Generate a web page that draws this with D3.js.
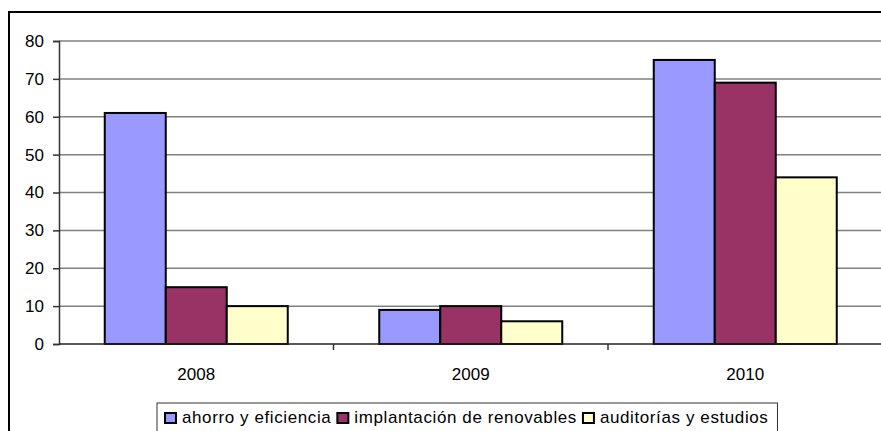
<!DOCTYPE html>
<html>
<head>
<meta charset="utf-8">
<script src="https://cdn.jsdelivr.net/npm/d3@7"></script>
<style>
  body { margin: 0; background: #fff; }
  text { font-family: "Liberation Sans", Arial, sans-serif; fill: #000; }
</style>
</head>
<body>
<script>
  var years = ['2008', '2009', '2010'];
  var seriesNames = ['ahorro y eficiencia', 'implantación de renovables', 'auditorías y estudios'];
  var ahorro = [61, 9, 75];
  var renovables = [15, 10, 69];
  var auditorias = [10, 6, 44];
  var yTicks = [0, 10, 20, 30, 40, 50, 60, 70, 80];
  var colors = ['#9999ff', '#993366', '#ffffcc'];

  var series = [ahorro, renovables, auditorias];
  var dataset = years.map(function(y, i) {
    return { year: y, values: series.map(function(s, k) { return { key: seriesNames[k], k: k, v: s[i] }; }) };
  });

  var W = 881, H = 431;
  var margin = {left: 59, top: 41};
  var plotW = 823.5, plotH = 303;

  var svg = d3.select('body').append('svg')
    .attr('width', W).attr('height', H);

  // outer chart frame (clipped at right/bottom like the original)
  svg.append('rect')
    .attr('x', 9).attr('y', 12)
    .attr('width', 900).attr('height', 440)
    .attr('fill', 'none').attr('stroke', '#000').attr('stroke-width', 2);

  var xScale = d3.scaleBand()
    .domain(years)
    .range([0, plotW])
    .paddingInner(0).paddingOuter(0);

  var x1 = d3.scaleBand()
    .domain(d3.range(3))
    .range([0, xScale.bandwidth()])
    .paddingOuter(0.75);

  var yScale = d3.scaleLinear()
    .domain([0, 80])
    .range([plotH, 0]);

  var g = svg.append('g').attr('transform', 'translate(' + margin.left + ',' + margin.top + ')');

  // grid lines
  g.append('g').selectAll('line')
    .data(yTicks.filter(function(d) { return d > 0; }))
    .enter().append('line')
    .attr('x1', 0).attr('x2', plotW)
    .attr('y1', function(d) { return yScale(d); })
    .attr('y2', function(d) { return yScale(d); })
    .attr('stroke', '#808080').attr('stroke-width', 1.5);

  // axis-y
  var yAxis = g.append('g')
    .call(d3.axisLeft(yScale).tickValues(yTicks).tickSize(6).tickPadding(9));
  yAxis.select('.domain').attr('stroke', '#333').attr('stroke-width', 1.5);
  yAxis.selectAll('.tick line').attr('stroke', '#333').attr('stroke-width', 1.5);
  yAxis.selectAll('text').attr('font-size', '17px').attr('font-family', '"Liberation Sans", Arial, sans-serif').attr('fill', '#000');

  // bars
  var groups = g.selectAll('.grp')
    .data(dataset)
    .enter().append('g')
    .attr('class', 'grp')
    .attr('transform', function(d) { return 'translate(' + xScale(d.year) + ',0)'; });

  groups.selectAll('rect')
    .data(function(d) { return d.values; })
    .enter().append('rect')
    .attr('x', function(d) { return x1(d.k); })
    .attr('y', function(d) { return yScale(d.v); })
    .attr('width', x1.bandwidth())
    .attr('height', function(d) { return plotH - yScale(d.v); })
    .attr('fill', function(d) { return colors[d.k]; })
    .attr('stroke', '#000').attr('stroke-width', 2);

  // axis-x
  var xAxis = g.append('g')
    .attr('transform', 'translate(0,' + plotH + ')')
    .call(d3.axisBottom(xScale).tickSize(0).tickPadding(24));
  xAxis.select('.domain').remove();
  xAxis.selectAll('text').attr('font-size', '17px').attr('font-family', '"Liberation Sans", Arial, sans-serif').attr('fill', '#000');
  g.append('line')
    .attr('x1', 0).attr('x2', plotW)
    .attr('y1', plotH).attr('y2', plotH)
    .attr('stroke', '#222').attr('stroke-width', 1.5);
  g.append('g').selectAll('line')
    .data(years.slice(1))
    .enter().append('line')
    .attr('x1', function(d) { return xScale(d); })
    .attr('x2', function(d) { return xScale(d); })
    .attr('y1', plotH).attr('y2', plotH + 6)
    .attr('stroke', '#333').attr('stroke-width', 1.5);

  // legend
  var lg = svg.append('g');
  var box = lg.append('rect')
    .attr('x', 157).attr('y', 403)
    .attr('height', 40)
    .attr('fill', '#fff').attr('stroke', '#333').attr('stroke-width', 1);

  var lx = 164;
  seriesNames.forEach(function(name, k) {
    lg.append('rect')
      .attr('x', lx + 1).attr('y', 413)
      .attr('width', 11).attr('height', 10)
      .attr('fill', colors[k]).attr('stroke', '#000').attr('stroke-width', 2);
    var t = lg.append('text')
      .attr('x', lx + 18).attr('y', 423)
      .attr('font-size', '17px')
      .attr('letter-spacing', '0.6px')
      .text(name);
    lx += 18 + t.node().getComputedTextLength() + 5;
  });
  box.attr('width', lx + 4 - 157);
</script>
</body>
</html>
